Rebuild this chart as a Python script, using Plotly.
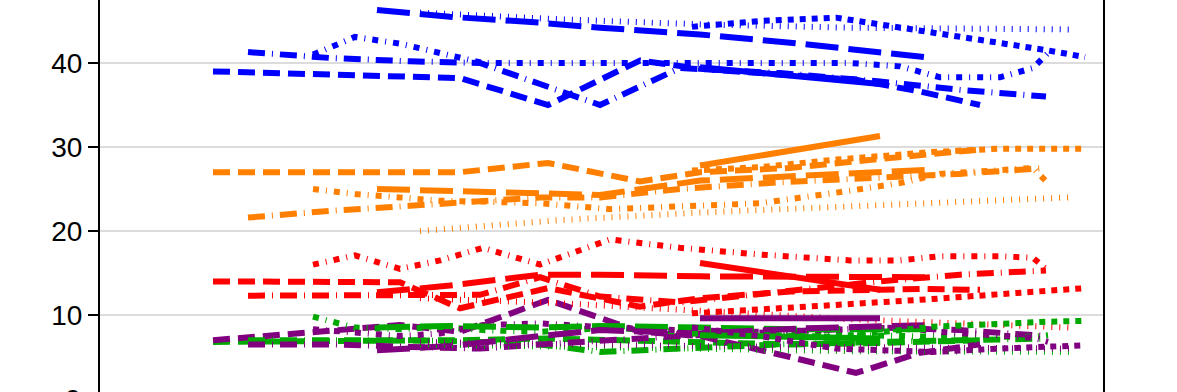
import plotly.graph_objects as go

# ---- data (x = days from start of period, y = poll share %) ----
parties = ["Blue", "Orange", "Red", "Green", "Purple"]
party_colors = ["#0000ff", "#ff8000", "#ff0000", "#00a800", "#800080"]

A_days = [113, 300, 360, 448, 540, 600, 690, 756, 820, 880]
A_blue = [39.0, 38.4, 38.2, 35.0, 40.3, 39.3, 38.6, 38.0, 36.6, 35.0]
A_orange = [27.0, 27.0, 27.0, 28.1, 25.9, 27.0, 27.5, 28.3, 29.0, 29.7]
A_red = [14.0, 13.9, 10.8, 13.2, 11.0, 12.0, 12.8, 13.0, 13.1, 13.0]
A_green = [6.8, 6.9, 7.0, 7.2, 7.0, 6.8, 6.5, 6.6, 6.8, 7.0]
A_purple = [7.0, 8.8, 8.0, 11.8, 8.0, 7.5, 5.0, 3.1, 5.5, 6.5]

B_days = [148, 230, 310, 380, 440, 500, 580, 680, 780, 860, 946]
B_blue = [41.3, 40.6, 40.2, 40.0, 37.5, 35.0, 39.4, 38.8, 37.8, 36.8, 36.0]
B_orange = [21.6, 22.4, 23.0, 23.5, 24.0, 24.0, 25.0, 25.8, 26.4, 26.8, 27.5]
B_red = [12.3, 12.3, 12.4, 12.4, 14.5, 12.2, 11.5, 12.8, 14.0, 14.8, 15.3]
B_green = [7.0, 7.0, 7.0, 6.8, 6.5, 5.6, 6.0, 6.5, 6.8, 7.0, 7.2]
B_purple = [6.5, 6.5, 6.2, 6.0, 6.5, 7.0, 7.5, 8.0, 8.5, 8.2, 7.5]

C_days = [213, 255, 300, 340, 383, 440, 510, 580, 660, 750, 800, 840, 900, 933, 948]
C_blue = [41.0, 43.1, 42.3, 41.2, 40.0, 40.0, 40.0, 40.0, 40.0, 40.0, 39.6, 38.3, 38.3, 39.4, 41.2]
C_orange = [25.0, 24.4, 24.0, 23.6, 23.5, 23.3, 22.6, 23.0, 23.3, 24.8, 25.7, 26.8, 27.3, 27.5, 25.7]
C_red = [16.0, 17.1, 15.5, 16.5, 18.0, 16.0, 19.0, 18.0, 17.2, 16.5, 16.5, 17.0, 17.0, 16.8, 15.3]
C_green = [9.8, 8.5, 8.3, 8.6, 8.2, 8.0, 8.5, 8.0, 7.8, 7.5, 7.5, 7.4, 7.4, 7.4, 7.6]
C_purple = [8.3, 8.0, 7.5, 7.8, 8.8, 9.0, 8.5, 8.2, 8.0, 8.3, 8.5, 8.0, 7.5, 7.3, 6.8]

D_days = [277, 350, 440, 500, 600, 700, 832]
D_blue = [46.3, 45.5, 44.8, 44.2, 43.4, 42.3, 40.6]
D_orange = [25.0, 24.8, 24.5, 24.3, 26.0, 26.5, 27.3]
D_red = [12.7, 13.5, 14.8, 14.8, 14.6, 14.5, 14.5]
D_green = [8.5, 8.7, 8.5, 8.7, 8.5, 8.3, 8.3]
D_purple = [5.8, 6.3, 7.5, 8.2, 7.8, 8.4, 8.8]

E_days = [320, 460, 600, 750, 970]
E_blue = [46.0, 45.2, 44.6, 44.2, 44.0]
E_orange = [20.0, 21.3, 22.2, 23.0, 24.0]
E_red = [12.0, 11.4, 10.5, 9.5, 8.5]
E_green = [6.5, 6.2, 5.9, 5.7, 5.6]
E_purple = [6.8, 6.5, 6.3, 6.2, 6.0]

F_days = [600, 780]
F_blue = [39.5, 37.5]
F_orange = [27.8, 31.3]
F_red = [16.2, 13.0]
F_green = [7.6, 7.2]
F_purple = [9.6, 9.6]

G_days = [592, 660, 736, 832, 900, 948, 985]
G_blue = [44.3, 45.0, 45.4, 43.7, 42.4, 41.5, 40.7]
G_orange = [27.2, 27.6, 28.5, 29.4, 29.8, 29.8, 29.8]
G_red = [10.2, 10.6, 11.2, 11.9, 12.4, 12.8, 13.2]
G_green = [7.8, 7.6, 7.4, 8.6, 9.0, 9.2, 9.3]
G_purple = [8.5, 7.5, 6.0, 5.6, 6.0, 6.3, 6.4]

y_ticks = [0, 10, 20, 30, 40]

pollsters = [
    ("Pollster A", A_days, [A_blue, A_orange, A_red, A_green, A_purple], "17px,8px"),
    ("Pollster B", B_days, [B_blue, B_orange, B_red, B_green, B_purple], "17px,7px,1px,7px"),
    ("Pollster C", C_days, [C_blue, C_orange, C_red, C_green, C_purple], "6px,7px,1px,7px"),
    ("Pollster D", D_days, [D_blue, D_orange, D_red, D_green, D_purple], "33px,10px"),
    ("Pollster E", E_days, [E_blue, E_orange, E_red, E_green, E_purple], "1px,7px"),
    ("Pollster F", F_days, [F_blue, F_orange, F_red, F_green, F_purple], "solid"),
    ("Pollster G", G_days, [G_blue, G_orange, G_red, G_green, G_purple], "6px,6px"),
]

fig = go.Figure()
for name, days, series, dash in pollsters:
    for party, color, vals in zip(parties, party_colors, series):
        fig.add_trace(go.Scatter(
            x=days, y=vals, mode="lines", name=f"{name} - {party}",
            line=dict(color=color, width=6, dash=dash),
            showlegend=False, hoverinfo="skip",
        ))

fig.update_layout(
    width=1177, height=392,
    margin=dict(l=100, r=74, t=0, b=0),
    paper_bgcolor="white", plot_bgcolor="white",
    font=dict(family="Arial, Liberation Sans, sans-serif", color="black"),
    showlegend=False,
)
fig.update_xaxes(range=[0, 1003], showgrid=False, zeroline=False,
                 showticklabels=False, ticks="", showline=False)
fig.update_yaxes(range=[0.833, 47.5], tickvals=y_ticks,
                 ticktext=[str(v) for v in y_ticks],
                 showgrid=True, gridcolor="#dcdcdc", gridwidth=2,
                 zeroline=False, showline=True, linecolor="black", linewidth=2,
                 mirror=True, ticks="outside", ticklen=10, tickwidth=2,
                 tickcolor="black", tickfont=dict(size=28, color="black"))
fig.add_annotation(text="0", xref="paper", yref="paper", x=0, y=-0.018,
                   xanchor="right", yanchor="middle", xshift=-17,
                   showarrow=False, font=dict(size=28, color="black"))

fig.write_html("out.html",
               config={"displayModeBar": False},
               post_script="document.body.style.margin='0';document.body.style.overflow='hidden';")
